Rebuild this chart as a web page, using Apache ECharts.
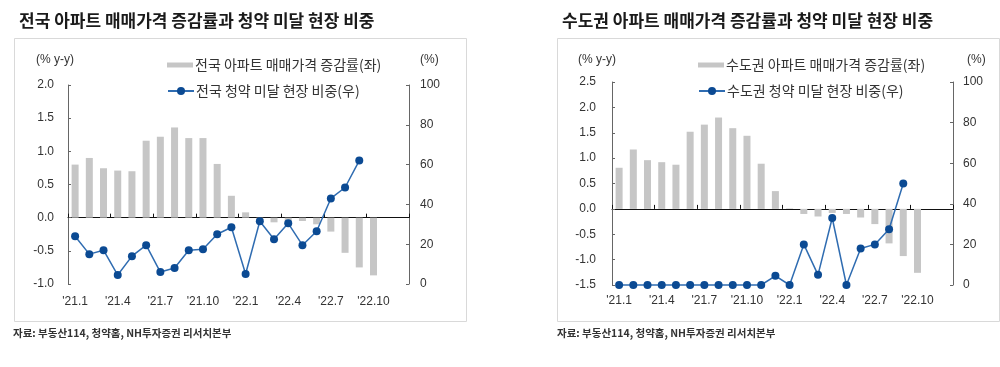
<!DOCTYPE html>
<html>
<head>
<meta charset="utf-8">
<script src="https://cdn.jsdelivr.net/npm/echarts@6/dist/echarts.min.js"></script>
<style>
html,body{margin:0;padding:0;background:#fff;}
#c{width:1000px;height:367px;}
</style>
</head>
<body>
<div id="c"></div>
<script>
// ---- data ----
var categories = ["'21.1","'21.2","'21.3","'21.4","'21.5","'21.6","'21.7","'21.8","'21.9","'21.10","'21.11","'21.12",
                  "'22.1","'22.2","'22.3","'22.4","'22.5","'22.6","'22.7","'22.8","'22.9","'22.10","'22.11","'22.12"];
var natPrice = [0.80,0.90,0.745,0.71,0.70,1.16,1.22,1.36,1.20,1.20,0.81,0.33,0.08,-0.04,-0.07,-0.05,-0.05,-0.10,-0.21,-0.53,-0.75,-0.87];
var natShare = [24,15,17,4.5,14,19.5,6,8,17,17.5,25,28.5,5,31.5,22.5,30.5,19.5,26.5,43,48.5,62];
var capPrice = [0.81,1.17,0.96,0.92,0.87,1.52,1.66,1.80,1.59,1.44,0.89,0.35,0.01,-0.10,-0.15,-0.08,-0.10,-0.17,-0.30,-0.68,-0.93,-1.26];
var capShare = [0,0,0,0,0,0,0,0,0,0,0,4.5,0,20,5,33,0,18,20,27.5,50];
var titles = ['전국 아파트 매매가격 증감률과 청약 미달 현장 비중','수도권 아파트 매매가격 증감률과 청약 미달 현장 비중'];
var seriesNames = ['전국 아파트 매매가격 증감률(좌)','전국 청약 미달 현장 비중(우)','수도권 아파트 매매가격 증감률(좌)','수도권 청약 미달 현장 비중(우)'];
var sourceText = '자료: 부동산114, 청약홈, NH투자증권 리서치본부';

var FONT = '"Liberation Sans", Arial, "Noto Sans CJK KR", sans-serif';
var KFONT = '"Noto Sans CJK KR", "Liberation Sans", sans-serif';
var TXT = '#333';
var BAR = '#c6c6c6';
var LINE = '#2f6cb1';
var DOT = '#0b4a93';

var chart = echarts.init(document.getElementById('c'), null, {renderer:'canvas'});

var grids = [
  {left:68, right:591, top:85, height:199},
  {left:612, right:47, top:82, height:203}
];

function labelAxis(g, lm){
  return {type:'category', gridIndex:g, data:categories, position:'bottom',
    axisLine:{show:false, onZero:false}, axisTick:{show:false},
    axisLabel:{interval:2, margin:lm, fontSize:12, color:TXT, fontFamily:FONT}};
}
function zeroAxis(g, yi){
  return {type:'category', gridIndex:g, data:categories, position:'top',
    axisLine:{show:true, onZero:true, onZeroAxisIndex:yi, lineStyle:{color:'#111', width:1}},
    axisTick:{show:true, interval:2, inside:false, length:4, lineStyle:{color:'#111'}},
    axisLabel:{show:false}, splitLine:{show:false}};
}
function leftY(g, min, max, lm){
  return {type:'value', gridIndex:g, position:'left', min:min, max:max, interval:0.5,
    axisLine:{show:true, lineStyle:{color:'#666', width:1}},
    axisTick:{show:true, inside:true, length:3, lineStyle:{color:'#666'}},
    axisLabel:{margin:lm, fontSize:12, color:TXT, fontFamily:FONT, formatter:function(v){return v.toFixed(1);}},
    splitLine:{show:false}};
}
function rightY(g, lm){
  return {type:'value', gridIndex:g, position:'right', min:0, max:100, interval:20,
    axisLine:{show:true, lineStyle:{color:'#666', width:1}},
    axisTick:{show:true, inside:true, length:3, lineStyle:{color:'#666'}},
    axisLabel:{margin:lm, fontSize:12, color:TXT, fontFamily:FONT},
    splitLine:{show:false}};
}
function barSeries(name, xi, yi, data){
  return {name:name, type:'bar', xAxisIndex:xi, yAxisIndex:yi, data:data, barWidth:7,
    itemStyle:{color:BAR}, z:2};
}
function lineSeries(name, xi, yi, data){
  return {name:name, type:'line', xAxisIndex:xi, yAxisIndex:yi, data:data, clip:false,
    symbol:'circle', symbolSize:8, showAllSymbol:true,
    lineStyle:{color:LINE, width:1.5}, itemStyle:{color:DOT}, z:3};
}
function legend(name, left, top, icon, h){
  return {data:[{name:name, icon:icon}], left:left, top:top, itemWidth:26, itemHeight:h, itemGap:0,
    textStyle:{fontSize:14, color:TXT, fontFamily:KFONT, padding:[0,0,0,-3]}, selectedMode:false};
}

var option = {
  animation:false,
  backgroundColor:'#fff',
  title:[
    {text:titles[0], left:14, top:7, textStyle:{fontSize:17, fontWeight:'bold', color:'#1a1a1a', fontFamily:KFONT}},
    {text:titles[1], left:557, top:7, textStyle:{fontSize:17, fontWeight:'bold', color:'#1a1a1a', fontFamily:KFONT}}
  ],
  legend:[
    legend(seriesNames[0], 162, 53, 'rect', 5),
    legend(seriesNames[1], 162, 79, null, 10),
    legend(seriesNames[2], 693, 53, 'rect', 5),
    legend(seriesNames[3], 693, 79, null, 10)
  ],
  grid:grids,
  xAxis:[labelAxis(0, 12), zeroAxis(0, 0), labelAxis(1, 10), zeroAxis(1, 2)],
  yAxis:[leftY(0, -1, 2, 14), rightY(0, 11), leftY(1, -1.5, 2.5, 16), rightY(1, 10)],
  series:[
    barSeries(seriesNames[0], 0, 0, natPrice),
    lineSeries(seriesNames[1], 0, 1, natShare),
    barSeries(seriesNames[2], 2, 2, capPrice),
    lineSeries(seriesNames[3], 2, 3, capShare)
  ],
  graphic:[
    {type:'rect', left:12, top:36, shape:{width:452, height:283}, style:{fill:'none', stroke:'#d9d9d9', lineWidth:1}, silent:true},
    {type:'rect', left:555, top:36, shape:{width:442, height:283}, style:{fill:'none', stroke:'#d9d9d9', lineWidth:1}, silent:true},
    {type:'text', left:36, top:54, style:{text:'(% y-y)', fontSize:12, fill:TXT, fontFamily:FONT}},
    {type:'text', left:420, top:54, style:{text:'(%)', fontSize:12, fill:TXT, fontFamily:FONT}},
    {type:'text', left:578, top:54, style:{text:'(% y-y)', fontSize:12, fill:TXT, fontFamily:FONT}},
    {type:'text', left:967, top:54, style:{text:'(%)', fontSize:12, fill:TXT, fontFamily:FONT}},
    {type:'text', left:13, top:328, style:{text:sourceText, fontSize:10.5, fontWeight:'bold', fill:'#333', fontFamily:KFONT}},
    {type:'text', left:557, top:328, style:{text:sourceText, fontSize:10.5, fontWeight:'bold', fill:'#333', fontFamily:KFONT}}
  ]
};
chart.setOption(option);
</script>
</body>
</html>
